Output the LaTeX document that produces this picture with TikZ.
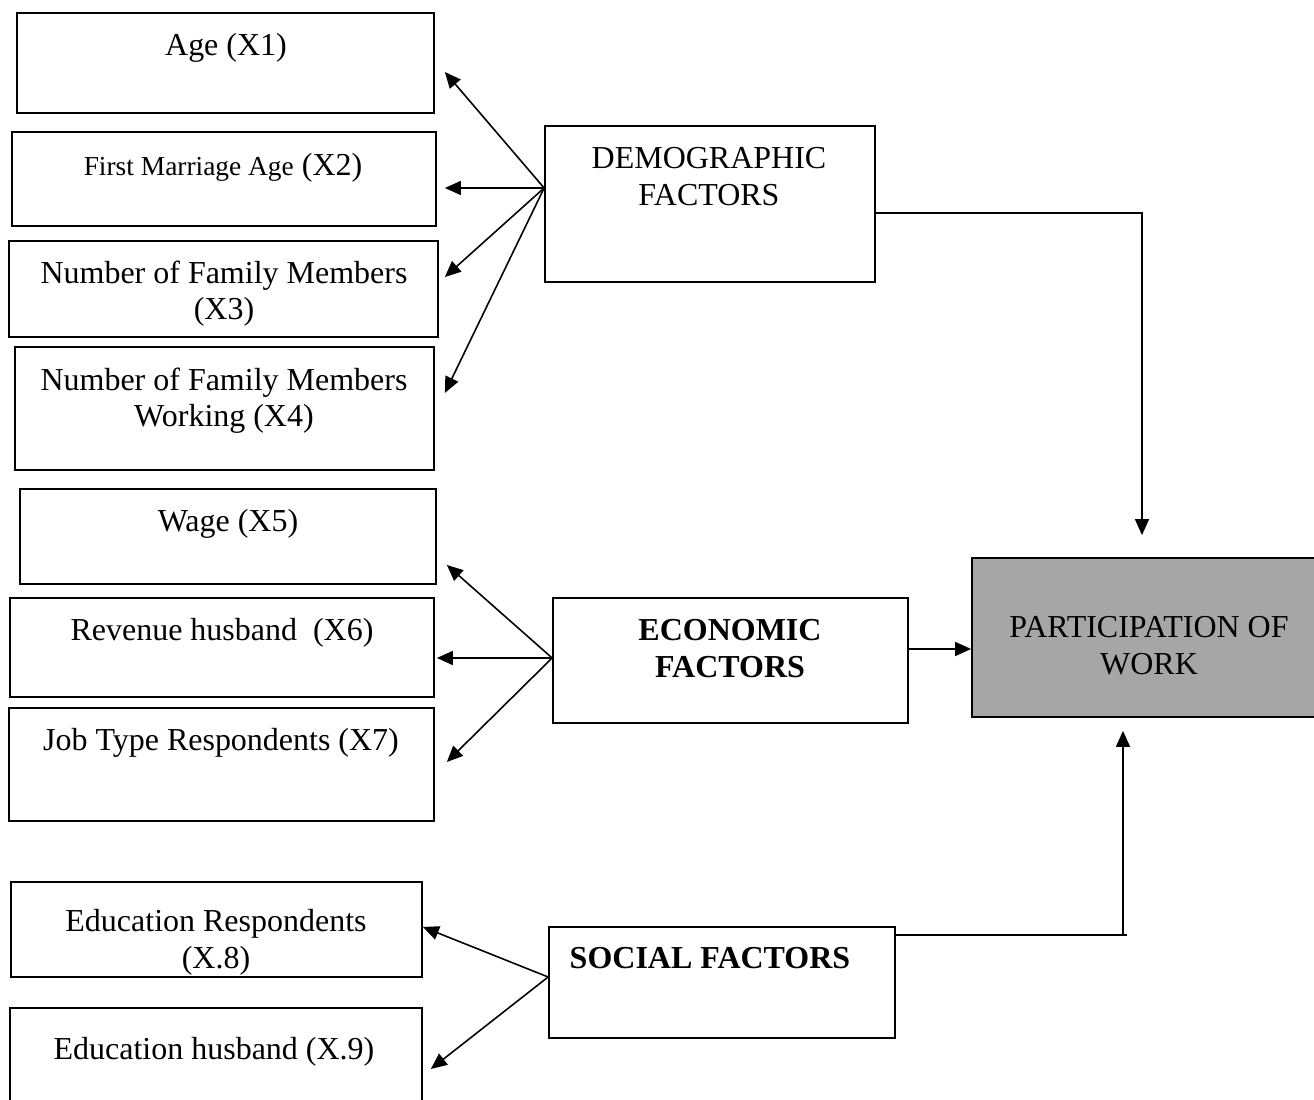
\documentclass[tikz,border=0pt]{standalone}
\usepackage{fontspec}
\setmainfont{Liberation Serif}
\usetikzlibrary{arrows.meta}
\usetikzlibrary{positioning}
\definecolor{partgray}{RGB}{166,166,166}
\tikzset{
	fbox/.style={draw, line width=0.5pt, inner sep=0pt},
	ftext/.style={anchor=north, inner sep=0pt, align=center, yshift=-0.2mm, font=\fontsize{9.1}{10.3}\selectfont},
	arr/.style={line width=0.45pt, -{Triangle[length=1.6mm,width=1.4mm]}}
}

\begin{document}
\begin{tikzpicture}[x=0.1mm, y=-0.1mm]
		\useasboundingbox (0,0) rectangle (1314,1100);
		% variable boxes
		\node[fbox, minimum width=41.7mm, minimum height=10mm] (age) at (225.5,63) {};
		\node[fbox, minimum width=42.4mm, minimum height=9.4mm] (fma) at (224,179) {};
		\node[fbox, minimum width=42.9mm, minimum height=9.6mm] (nfm) at (223.5,289) {};
		\node[fbox, minimum width=41.9mm, minimum height=12.3mm] (nfw) at (224.5,408.5) {};
		\node[fbox, minimum width=41.6mm, minimum height=9.5mm] (wage) at (228,536.5) {};
		\node[fbox, minimum width=42.4mm, minimum height=9.9mm] (rev) at (222,647.5) {};
		\node[fbox, minimum width=42.5mm, minimum height=11.3mm] (job) at (221.5,764.5) {};
		\node[fbox, minimum width=41.1mm, minimum height=9.5mm] (edur) at (216.5,929.5) {};
		\node[fbox, minimum width=41.2mm, minimum height=11.2mm] (eduh) at (216,1064) {};
		\node[ftext] (agetxt) at (226,31) {Age (X1)};
		\node[ftext] (fmatxt) at (223,151) {{\fontsize{7.8}{9}\selectfont First Marriage Age} (X2)};
		\node[ftext] (nfmtxt) at (224,258) {Number of Family Members\\(X3)};
		\node[ftext] (nfwtxt) at (224,365) {Number of Family Members\\Working (X4)};
		\node[ftext] (wagetxt) at (228,507) {Wage (X5)};
		\node[ftext] (revtxt) at (222,616) {Revenue husband\ \ (X6)};
		\node[ftext] (jobtxt) at (221,726) {Job Type Respondents (X7)};
		\node[ftext] (edurtxt) at (216,907) {Education Respondents\\(X.8)};
		\node[ftext] (eduhtxt) at (214,1035) {Education husband (X.9)};
		% factor boxes
		\node[fbox, minimum width=33mm, minimum height=15.6mm] (demo) at (710,204) {};
		\node[fbox, minimum width=35.5mm, minimum height=12.5mm] (econ) at (730.5,660.5) {};
		\node[fbox, minimum width=34.6mm, minimum height=11.1mm] (soc) at (722,982.5) {};
		\node[fbox, fill=partgray, minimum width=35.4mm, minimum height=15.9mm] (part) at (1149,637.5) {};
		\node[ftext] (demotxt) at (709,145) {DEMOGRAPHIC\\FACTORS};
		\node[ftext, font=\fontsize{9.1}{10.3}\selectfont\bfseries] (econtxt) at (730,617) {ECONOMIC\\FACTORS};
		\node[ftext, font=\fontsize{9.1}{10.3}\selectfont\bfseries] (soctxt) at (710,945) {SOCIAL FACTORS};
		\node[ftext] (parttxt) at (1149,614) {PARTICIPATION OF\\WORK};
		% demographic arrows
		\draw[arr] ([yshift=1.6mm]demo.west) -- ([xshift=1mm,yshift=-0.9mm]age.east);
		\draw[arr] ([yshift=1.6mm]demo.west) -- ([xshift=0.8mm,yshift=-0.9mm]fma.east);
		\draw[arr] ([yshift=1.6mm]demo.west) -- ([xshift=0.6mm,yshift=1.2mm]nfm.east);
		\draw[arr] ([yshift=1.6mm]demo.west) -- ([xshift=1mm,yshift=1.55mm]nfw.east);
		% economic arrows
		\draw[arr] ([yshift=0.25mm]econ.west) -- ([xshift=1mm,yshift=-2.85mm]wage.east);
		\draw[arr] ([yshift=0.25mm]econ.west) -- ([xshift=0.2mm,yshift=-1.05mm]rev.east);
		\draw[arr] ([yshift=0.25mm]econ.west) -- ([xshift=1.2mm,yshift=0.25mm]job.east);
		% social arrows
		\draw[arr] ([yshift=0.55mm]soc.west) -- ([yshift=0.25mm]edur.east);
		\draw[arr] ([yshift=0.55mm]soc.west) -- ([xshift=0.8mm,yshift=-0.5mm]eduh.east);
		% into participation
		\draw[arr] ([yshift=-0.9mm]demo.east) -| ([xshift=-0.7mm,yshift=2.2mm]part.north);
		\draw[arr] ([yshift=1.15mm]econ.east) -- ([yshift=1.15mm]econ.east -| part.west);
		\coordinate (soctop) at ([yshift=4.75mm]soc.east);
		\coordinate (socjoin) at ([xshift=-2.6mm]part.south |- soctop);
		\draw[line width=0.8pt] (soctop) -- ([xshift=0.4mm]socjoin);
		\draw[arr] (socjoin) -- ([xshift=-2.6mm,yshift=-1.3mm]part.south);
\end{tikzpicture}
\end{document}
